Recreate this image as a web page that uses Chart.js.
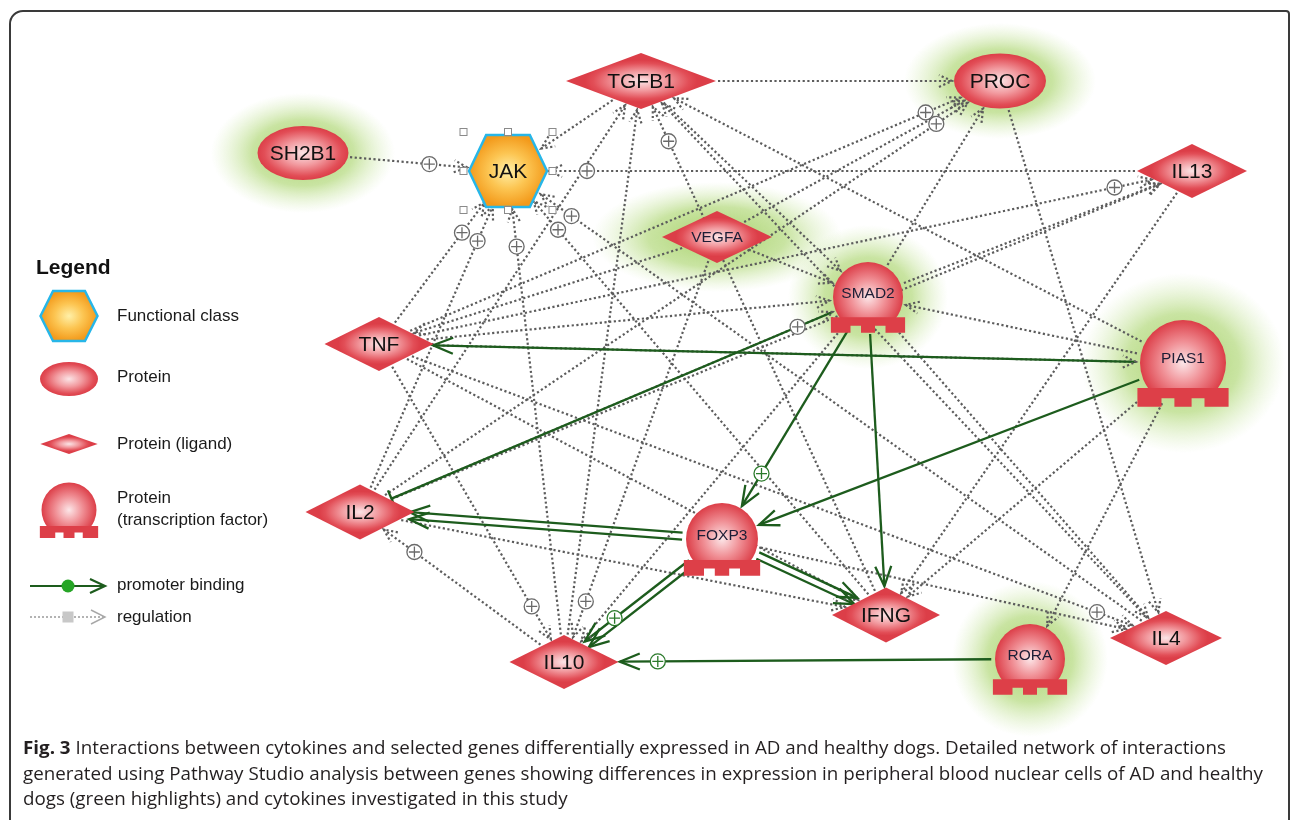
<!DOCTYPE html>
<html>
<head>
<meta charset="utf-8">
<script src="https://cdn.jsdelivr.net/npm/chart.js@4/dist/chart.umd.min.js"></script>
<style>
  html,body{margin:0;padding:0;background:#fff;}
  #wrap{position:relative;width:1290px;height:820px;overflow:hidden;}
  #c{position:absolute;left:0;top:0;}
  #frame{position:absolute;left:9px;top:10px;width:1277px;height:840px;border:2px solid #3a3a3a;border-radius:14px 4px 0 0;pointer-events:none;}
  #cap{position:absolute;left:23px;top:734px;font-family:'Open Sans','Liberation Sans',sans-serif;font-size:18.5px;line-height:25.5px;color:#231f20;}
  #cap .ln{white-space:nowrap;display:block;width:max-content;transform-origin:0 0;}
</style>
</head>
<body>
<div id="wrap">
  <canvas id="c" width="1290" height="820"></canvas>
  <div id="frame"></div>
  <div id="cap">
    <div class="ln"><b>Fig. 3</b> Interactions between cytokines and selected genes differentially expressed in AD and healthy dogs. Detailed network of interactions</div>
    <div class="ln">generated using Pathway Studio analysis between genes showing differences in expression in peripheral blood nuclear cells of AD and healthy</div>
    <div class="ln">dogs (green highlights) and cytokines investigated in this study</div>
  </div>
</div>
<script>
// ---------------- DATA ----------------
const nodeNames = ['TGFB1','PROC','SH2B1','JAK','IL13','VEGFA','SMAD2','TNF','PIAS1','IL2','FOXP3','IFNG','IL10','IL4','RORA'];
const nodeKinds = ['ligand','protein','protein','functional','ligand','ligand','tf','ligand','tf','ligand','tf','ligand','ligand','ligand','tf'];
const nodeX = [641, 1000, 303, 508, 1192, 717, 868, 379, 1183, 360, 722, 886, 564, 1166, 1030];
const nodeY = [81, 81, 153, 171, 171, 237, 297, 344, 363, 512, 539, 615, 662, 638, 659];
const highlightedNodes = ['SH2B1','PROC','VEGFA','SMAD2','PIAS1','RORA'];

// promoter binding relations (green)
const bindingFrom   = ['PIAS1','PIAS1','SMAD2','SMAD2','SMAD2','FOXP3','FOXP3','FOXP3','FOXP3','FOXP3','FOXP3','RORA'];
const bindingTo     = ['TNF','FOXP3','IL2','FOXP3','IFNG','IL2','IL2','IFNG','IFNG','IL10','IL10','IL10'];
const bindingEffect = ['unknown','unknown','negative','positive','unknown','unknown','unknown','unknown','unknown','unknown','positive','positive'];

// regulation relations (grey dotted)
const regulationFrom = ['SH2B1','IL13','TNF','IL2','IL10','IFNG','IL4','TGFB1','TGFB1','IL10','IL2','IFNG','PIAS1','IL4','TGFB1','TNF','IL2','VEGFA','SMAD2','PROC','TNF','IL2','IL13','SMAD2','TNF','TNF','TNF','TNF','IL10','IL2','IL2','VEGFA','VEGFA','VEGFA','PIAS1','PIAS1','PIAS1','SMAD2','SMAD2','TNF','FOXP3'];
const regulationTo   = ['JAK','JAK','JAK','JAK','JAK','JAK','JAK','JAK','PROC','TGFB1','TGFB1','TGFB1','TGFB1','TGFB1','SMAD2','PROC','PROC','PROC','PROC','IL4','IL13','IL13','IFNG','IL13','SMAD2','PIAS1','IFNG','IL10','IL2','IFNG','SMAD2','IL10','SMAD2','TNF','SMAD2','IFNG','RORA','IL4','IL10','IL4','IL4'];
const regulationEffect = ['positive','positive','positive','positive','positive','positive','positive','unknown','unknown','unknown','unknown','positive','unknown','unknown','unknown','positive','positive','unknown','unknown','unknown','positive','unknown','unknown','unknown','unknown','unknown','unknown','positive','positive','unknown','positive','positive','unknown','unknown','unknown','unknown','unknown','unknown','unknown','positive','unknown'];

// legend content
const legendTitle = 'Legend';
const legendKinds = ['functional','protein','ligand','tf'];
const legendLabels = [['Functional class'],['Protein'],['Protein (ligand)'],['Protein','(transcription factor)']];
const relationLabels = ['promoter binding','regulation'];

// ---------------- STYLE ----------------
const NODE_SIZE = { // half width, half height (or radius for tf)
  TGFB1:{w:75,h:28}, PROC:{w:46,h:27.5}, SH2B1:{w:45.5,h:27}, JAK:{w:39,h:36},
  IL13:{w:55,h:27}, VEGFA:{w:55,h:26}, SMAD2:{r:35}, TNF:{w:54.5,h:27},
  PIAS1:{r:43}, IL2:{w:54.5,h:27.5}, FOXP3:{r:36}, IFNG:{w:54,h:27.5},
  IL10:{w:54.5,h:27}, IL4:{w:56,h:27}, RORA:{r:35}
};
const GLOW = { SH2B1:[92,60], PROC:[96,58], VEGFA:[125,55], SMAD2:[80,72], PIAS1:[102,90], RORA:[78,78] };
const FONT = "'Liberation Sans', Arial, sans-serif";
const GREEN = '#1d5c1d';
const GREY = '#5c5c5c';
const DOTS = [2.2,2.5];

function kindOf(name){ return nodeKinds[nodeNames.indexOf(name)]; }

function halfSize(name){
  const s = NODE_SIZE[name];
  if (kindOf(name) === 'tf') return {a: s.r*1.05, b: s.r};
  return {a: s.w, b: s.h};
}
function boundary(name, ux, uy){
  const k = kindOf(name), {a,b} = halfSize(name);
  if (k === 'ligand') return 1/(Math.abs(ux)/a + Math.abs(uy)/b);
  return 1/Math.sqrt((ux/a)**2 + (uy/b)**2);
}

// ---------- drawing helpers ----------
function unitPath(ctx, kind){
  ctx.beginPath();
  if (kind === 'ligand'){ ctx.moveTo(-1,0); ctx.lineTo(0,-1); ctx.lineTo(1,0); ctx.lineTo(0,1); ctx.closePath(); }
  else if (kind === 'functional'){ const t=0.56; ctx.moveTo(-1,0); ctx.lineTo(-t,-1); ctx.lineTo(t,-1); ctx.lineTo(1,0); ctx.lineTo(t,1); ctx.lineTo(-t,1); ctx.closePath(); }
  else { ctx.arc(0,0,1,0,Math.PI*2); }
}
function gradFill(ctx, kind, cx, cy, a, b, stops, gr){
  ctx.save(); ctx.translate(cx,cy); ctx.scale(a,b);
  const g = ctx.createRadialGradient(0,0,0,0,0,gr||1);
  stops.forEach(s=>g.addColorStop(s[0],s[1]));
  unitPath(ctx, kind); ctx.fillStyle = g; ctx.fill(); ctx.restore();
}
const RED_STOPS = [[0,'#fbe4e6'],[0.45,'#f29ba0'],[0.85,'#e24e57'],[1,'#dc3e48']];
const ORANGE_STOPS = [[0,'#fff0a8'],[0.5,'#fcc552'],[1,'#f39a1b']];

function drawShape(ctx, kind, cx, cy, a, b){
  if (kind === 'ligand') gradFill(ctx, kind, cx, cy, a, b, RED_STOPS, 0.75);
  else if (kind === 'protein') gradFill(ctx, kind, cx, cy, a, b, RED_STOPS, 1);
  else if (kind === 'functional'){
    gradFill(ctx, kind, cx, cy, a, b, ORANGE_STOPS, 1);
    ctx.save(); ctx.beginPath(); const t=a*0.56;
    ctx.moveTo(cx-a,cy); ctx.lineTo(cx-t,cy-b); ctx.lineTo(cx+t,cy-b); ctx.lineTo(cx+a,cy); ctx.lineTo(cx+t,cy+b); ctx.lineTo(cx-t,cy+b); ctx.closePath();
    ctx.lineWidth = 2.5; ctx.strokeStyle = '#27b6e8'; ctx.stroke(); ctx.restore();
  } else { // transcription factor, a = radius
    const r = a;
    const bt = cy + 0.58*r, bb = cy + 1.02*r, hw = 1.06*r;
    ctx.save(); ctx.beginPath(); ctx.rect(cx-r-2, cy-r-2, 2*r+4, r+2+0.58*r+1); ctx.clip();
    gradFill(ctx, 'circle', cx, cy, r, r, [[0,'#fce6e8'],[0.5,'#f08f95'],[1,'#dc3e48']], 1);
    ctx.restore();
    ctx.beginPath();
    const n1 = 0.2*r, n2 = 0.5*r, nd = bb - 0.2*r;
    ctx.moveTo(cx-hw, bt); ctx.lineTo(cx+hw, bt); ctx.lineTo(cx+hw, bb); ctx.lineTo(cx+n2, bb); ctx.lineTo(cx+n2, nd);
    ctx.lineTo(cx+n1, nd); ctx.lineTo(cx+n1, bb); ctx.lineTo(cx-n1, bb); ctx.lineTo(cx-n1, nd); ctx.lineTo(cx-n2, nd);
    ctx.lineTo(cx-n2, bb); ctx.lineTo(cx-hw, bb); ctx.closePath();
    ctx.fillStyle = '#dd3f48'; ctx.fill();
  }
}
function chevron(ctx, x, y, ux, uy, len, hw, color, dashed, lw){
  const nx = -uy, ny = ux;
  ctx.save(); ctx.beginPath();
  ctx.moveTo(x - ux*len + nx*hw, y - uy*len + ny*hw); ctx.lineTo(x, y);
  ctx.lineTo(x - ux*len - nx*hw, y - uy*len - ny*hw);
  ctx.strokeStyle = color; ctx.lineWidth = lw; ctx.setLineDash(dashed ? DOTS : []); ctx.lineJoin='miter'; ctx.stroke(); ctx.restore();
}
function plus(ctx, x, y, color){
  ctx.save(); ctx.beginPath(); ctx.arc(x,y,7.5,0,Math.PI*2); ctx.fillStyle='#fff'; ctx.fill();
  ctx.lineWidth=1.3; ctx.strokeStyle=color; ctx.stroke();
  ctx.beginPath(); ctx.moveTo(x-5.5,y); ctx.lineTo(x+5.5,y); ctx.moveTo(x,y-5.5); ctx.lineTo(x,y+5.5); ctx.stroke(); ctx.restore();
}

// ---------- network plugin ----------
function edgeGeom(chart, from, to, offset){
  const meta = chart.getDatasetMeta(0).data;
  const p = meta[nodeNames.indexOf(from)], q = meta[nodeNames.indexOf(to)];
  const dx = q.x-p.x, dy = q.y-p.y, L = Math.hypot(dx,dy), ux = dx/L, uy = dy/L, nx = -uy, ny = ux;
  const s0 = boundary(from, ux, uy) + 2, s1 = boundary(to, -ux, -uy) + 2;
  return { x0: p.x+ux*s0+nx*offset, y0: p.y+uy*s0+ny*offset, x1: q.x-ux*s1+nx*offset, y1: q.y-uy*s1+ny*offset, ux, uy, nx, ny };
}
function offsetsFor(fromArr, toArr){
  const seen = {}, counts = {};
  fromArr.forEach((f,i)=>{ const k=f+'>'+toArr[i]; counts[k]=(counts[k]||0)+1; });
  return fromArr.map((f,i)=>{ const k=f+'>'+toArr[i]; const n=counts[k]; const j=(seen[k]=(seen[k]||0)+1)-1; return n>1 ? (j-(n-1)/2)*7 : 0; });
}

const networkPlugin = {
  id: 'network',
  beforeDatasetsDraw(chart){
    const ctx = chart.ctx, meta = chart.getDatasetMeta(0).data;
    // glows
    highlightedNodes.forEach(n=>{
      const el = meta[nodeNames.indexOf(n)], g = GLOW[n];
      ctx.save(); ctx.translate(el.x, el.y); ctx.scale(g[0], g[1]);
      const gr = ctx.createRadialGradient(0,0,0,0,0,1);
      gr.addColorStop(0,'rgba(150,200,80,0.85)'); gr.addColorStop(0.55,'rgba(165,210,100,0.6)'); gr.addColorStop(1,'rgba(200,230,160,0)');
      ctx.beginPath(); ctx.arc(0,0,1,0,Math.PI*2); ctx.fillStyle = gr; ctx.fill(); ctx.restore();
    });
    // regulation lines
    ctx.save(); ctx.setLineDash(DOTS); ctx.lineWidth = 2.2; ctx.strokeStyle = GREY;
    regulationFrom.forEach((f,i)=>{
      const e = edgeGeom(chart, f, regulationTo[i], 0);
      ctx.beginPath(); ctx.moveTo(e.x0,e.y0); ctx.lineTo(e.x1,e.y1); ctx.stroke();
    });
    ctx.restore();
    // binding lines
    const offs = offsetsFor(bindingFrom, bindingTo);
    ctx.save(); ctx.lineWidth = 2.3; ctx.strokeStyle = GREEN;
    bindingFrom.forEach((f,i)=>{
      const e = edgeGeom(chart, f, bindingTo[i], offs[i]);
      ctx.beginPath(); ctx.moveTo(e.x0,e.y0); ctx.lineTo(e.x1,e.y1); ctx.stroke();
    });
    ctx.restore();
  },
  afterDatasetsDraw(chart){
    const ctx = chart.ctx, meta = chart.getDatasetMeta(0).data;
    // arrowheads & effect markers
    regulationFrom.forEach((f,i)=>{
      const e = edgeGeom(chart, f, regulationTo[i], 0);
      chevron(ctx, e.x1, e.y1, e.ux, e.uy, 13, 6, GREY, true, 2.2);
      if (regulationEffect[i] === 'positive') plus(ctx, e.x1-e.ux*38, e.y1-e.uy*38, '#6a6a6a');
    });
    const offs = offsetsFor(bindingFrom, bindingTo);
    bindingFrom.forEach((f,i)=>{
      const e = edgeGeom(chart, f, bindingTo[i], offs[i]);
      if (bindingEffect[i] === 'negative'){
        ctx.save(); ctx.beginPath(); ctx.moveTo(e.x1+e.nx*9, e.y1+e.ny*9); ctx.lineTo(e.x1-e.nx*9, e.y1-e.ny*9);
        ctx.lineWidth=2.4; ctx.strokeStyle=GREEN; ctx.stroke(); ctx.restore();
      } else {
        chevron(ctx, e.x1, e.y1, e.ux, e.uy, 20, 8, GREEN, false, 2.3);
      }
      if (bindingEffect[i] === 'positive') plus(ctx, e.x1-e.ux*38, e.y1-e.uy*38, '#2b7a2b');
    });
    // nodes
    nodeNames.forEach((n,i)=>{
      const el = meta[i], k = nodeKinds[i], s = NODE_SIZE[n];
      if (k === 'tf') drawShape(ctx, k, el.x, el.y, s.r, s.r);
      else drawShape(ctx, k, el.x, el.y, s.w, s.h);
    });
    // JAK selection handles
    const jak = meta[nodeNames.indexOf('JAK')], js = NODE_SIZE.JAK;
    ctx.save(); ctx.strokeStyle='#8a8a8a'; ctx.lineWidth=1; ctx.fillStyle='#fff';
    [[-1,-1],[0,-1],[1,-1],[-1,0],[1,0],[-1,1],[0,1],[1,1]].forEach(([sx,sy])=>{
      const hx = jak.x + sx*(js.w+5.5), hy = jak.y + sy*(js.h+3);
      ctx.fillRect(hx-3.5,hy-3.5,7,7); ctx.strokeRect(hx-3.5,hy-3.5,7,7);
    });
    ctx.restore();
    // labels
    ctx.save(); ctx.textAlign='center'; ctx.textBaseline='middle';
    nodeNames.forEach((n,i)=>{
      const el = meta[i], k = nodeKinds[i];
      const small = (k === 'tf' || n === 'VEGFA');
      ctx.font = (small ? '15.5px ' : '21px ') + FONT;
      ctx.fillStyle = small ? '#1d1d35' : '#111';
      const dy = k === 'tf' ? -NODE_SIZE[n].r*0.1 : 1;
      ctx.fillText(n, el.x, el.y + dy);
    });
    ctx.restore();
    // legend
    ctx.save();
    ctx.fillStyle = '#111'; ctx.font = 'bold 21px ' + FONT; ctx.textBaseline='middle'; ctx.textAlign='left';
    ctx.fillText(legendTitle, 36, 268);
    const ly = [316, 379, 444, 510];
    const lsz = [[28.5,25],[29,17],[28.7,10],[27.5,27.5]];
    legendKinds.forEach((k,i)=>{
      drawShape(ctx, k, 69, ly[i], lsz[i][0], lsz[i][1]);
    });
    ctx.font = '17px ' + FONT; ctx.fillStyle = '#1a1a1a';
    const ty = [[316],[377],[444],[498,520]];
    legendLabels.forEach((lines,i)=>lines.forEach((t,j)=>ctx.fillText(t, 117, ty[i][j])));
    // relation legend
    ctx.beginPath(); ctx.moveTo(30,586); ctx.lineTo(104,586); ctx.lineWidth=2.2; ctx.strokeStyle=GREEN; ctx.stroke();
    chevron(ctx, 105, 586, 1, 0, 15, 7, GREEN, false, 2.2);
    ctx.beginPath(); ctx.arc(68,586,6.5,0,Math.PI*2); ctx.fillStyle='#26a526'; ctx.fill();
    ctx.save(); ctx.setLineDash([2,2]); ctx.beginPath(); ctx.moveTo(30,617); ctx.lineTo(104,617); ctx.lineWidth=1.6; ctx.strokeStyle='#9a9a9a'; ctx.stroke(); ctx.restore();
    chevron(ctx, 105, 617, 1, 0, 14, 7, '#a8a8a8', false, 1.4);
    ctx.fillStyle='#c8c8c8'; ctx.fillRect(62.5,611.5,11,11);
    ctx.font = '17px ' + FONT; ctx.fillStyle = '#1a1a1a';
    ctx.fillText(relationLabels[0], 117, 585); ctx.fillText(relationLabels[1], 117, 617);
    ctx.restore();
  }
};

const chart = new Chart(document.getElementById('c'), {
  type: 'scatter',
  data: { datasets: [{ label: 'nodes', data: nodeNames.map((n,i)=>({x:nodeX[i], y:nodeY[i]})), pointRadius: 0, pointHoverRadius: 0 }] },
  options: {
    responsive: false, animation: false, events: [],
    layout: { padding: 0 },
    plugins: { legend: { display: false }, tooltip: { enabled: false } },
    scales: {
      x: { type: 'linear', min: 0, max: 1290, display: false },
      y: { type: 'linear', min: 0, max: 820, reverse: true, display: false }
    }
  },
  plugins: [networkPlugin]
});

// caption: fit condensed width
(function(){
  const lines = document.querySelectorAll('#cap .ln');
  const w2 = lines[1].getBoundingClientRect().width;
  const sc = 1240 / w2;
  lines.forEach(l => l.style.transform = 'scaleX(' + sc + ')');
})();
</script>
</body>
</html>
